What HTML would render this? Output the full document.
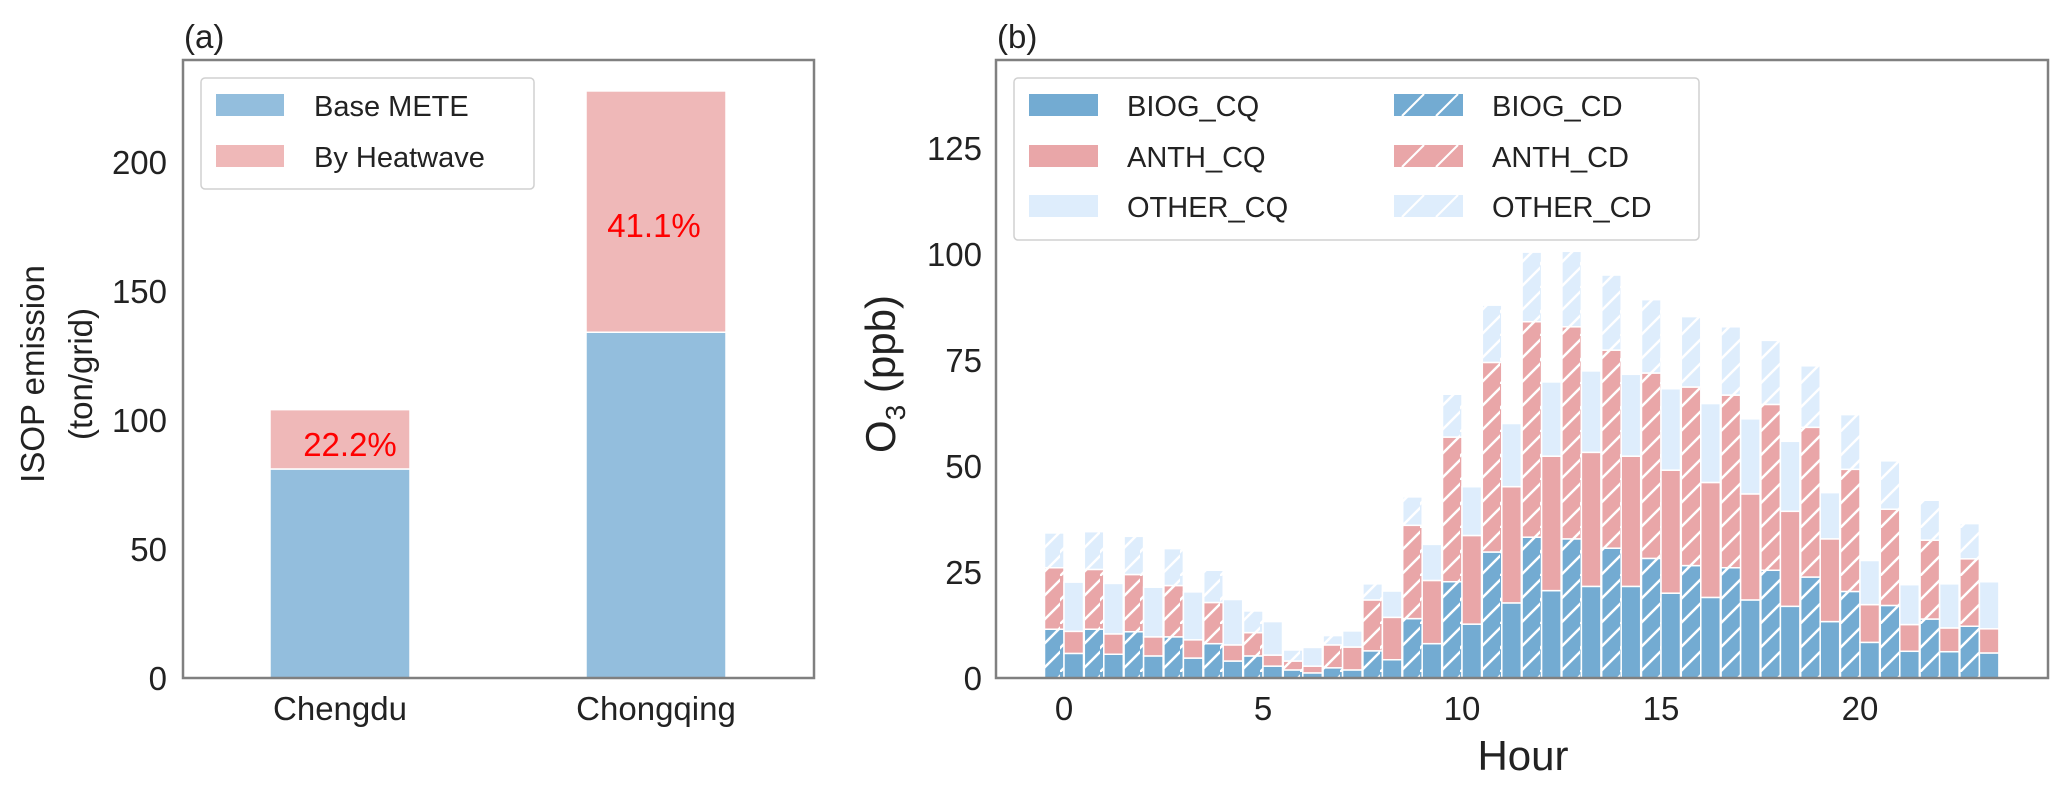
<!DOCTYPE html>
<html><head><meta charset="utf-8"><style>
html,body{margin:0;padding:0;background:#fff;}
svg{display:block;font-family:"Liberation Sans",Arial,sans-serif;}
</style></head><body>
<svg id="chart" width="2067" height="788" viewBox="0 0 2067 788" xmlns="http://www.w3.org/2000/svg">
<defs>
<pattern id="hatch" patternUnits="userSpaceOnUse" width="20" height="48">
<line x1="-2" y1="26" x2="22" y2="2" stroke="#fff" stroke-width="2.5"/>
<line x1="-2" y1="50" x2="22" y2="26" stroke="#fff" stroke-width="2.5"/>
</pattern>
</defs>
<g id="pa"></g>
<g id="pb"></g>
</svg>
<script>
// Panel (a) data
const citiesA = ["Chengdu", "Chongqing"];
const baseA = [81, 134];
const heatA = [23, 93.5];
const pctA = ["22.2%", "41.1%"];
const ticksA = [0, 50, 100, 150, 200];

// Panel (b) data
const hours = [0,1,2,3,4,5,6,7,8,9,10,11,12,13,14,15,16,17,18,19,20,21,22,23];
const biogCD = [11.5,11.5,10.9,9.7,8.1,5.2,1.9,2.4,6.4,14,22.7,29.7,33.2,32.8,30.6,28.2,26.5,26,25.4,23.8,20.4,17.1,13.9,12.2];
const anthCD = [14.5,14.1,13.5,12.1,9.7,5.5,2.1,5.4,12,22,34.1,44.7,50.8,50,46.7,43.7,42.1,40.7,39.1,35.3,28.8,22.7,18.6,15.9];
const otherCD = [8.2,8.9,9,8.7,7.6,5.1,2.6,2.2,3.8,6.7,10.1,13.5,16.4,17.8,17.7,17.3,16.6,16.1,15.1,14.5,12.9,11.4,9.4,8.3];
const biogCQ = [5.8,5.6,5.2,4.7,4,2.8,1.2,1.9,4.3,8.1,12.7,17.7,20.6,21.6,21.6,20,19,18.4,16.9,13.3,8.4,6.3,6.2,5.9];
const anthCQ = [5.2,4.8,4.5,4.3,3.8,2.6,1.6,5.4,10,14.9,20.9,27.4,31.7,31.6,30.7,29,27.1,25,22.4,19.5,8.9,6.3,5.6,5.7];
const otherCQ = [11.6,11.9,11.7,11.3,10.7,7.9,4.4,3.8,6.2,8.5,11.5,14.9,17.5,19.2,19.3,19.2,18.6,17.7,16.5,10.9,10.4,9.4,10.4,11.1];
const ticksB = [0, 25, 50, 75, 100, 125];
const xticksB = [0, 5, 10, 15, 20];

const NS = "http://www.w3.org/2000/svg";
function mk(parent, tag, attrs, text){
  const e = document.createElementNS(NS, tag);
  for (const k in attrs) e.setAttribute(k, attrs[k]);
  if (text !== undefined) e.textContent = text;
  parent.appendChild(e);
  return e;
}

// ---------- Panel A ----------
const pa = document.getElementById('pa');
const A = {l:183, r:814, t:60, b:678, ymax:239.5};
const ya = v => A.b - v/A.ymax*(A.b-A.t);
const xa = i => 340 + i*316;
ticksA.forEach(t => {
  const e = mk(pa,'text',{x:167,y:ya(t)+12,'text-anchor':'end','font-size':33,fill:'#222'},t);
  
  
});
citiesA.forEach((c,i) => {
  const x = xa(i);
  const b = mk(pa,'rect',{x:x-70,y:ya(baseA[i]),width:140,height:ya(0)-ya(baseA[i]),fill:'#93bedd',stroke:'#fff','stroke-width':1.5});
  
  
  const top = baseA[i]+heatA[i];
  const h = mk(pa,'rect',{x:x-70,y:ya(top),width:140,height:ya(baseA[i])-ya(top),fill:'#efb8b8',stroke:'#fff','stroke-width':1.5});
  
  
  const xl = mk(pa,'text',{x:x,y:720,'text-anchor':'middle','font-size':33,fill:'#222'},c);
  
  
});
const p1 = mk(pa,'text',{x:xa(0)+10,y:456,'text-anchor':'middle','font-size':33,fill:'#ff0000'},pctA[0]);


const p2 = mk(pa,'text',{x:xa(1)-2,y:237,'text-anchor':'middle','font-size':33,fill:'#ff0000'},pctA[1]);


const fa = mk(pa,'rect',{x:A.l,y:A.t,width:A.r-A.l,height:A.b-A.t,fill:'none',stroke:'#808080','stroke-width':2.5});


const ta = mk(pa,'text',{x:184,y:48,'font-size':33,fill:'#222'},'(a)');


const yt1 = mk(pa,'text',{x:0,y:0,'text-anchor':'middle','font-size':33,fill:'#222',transform:'translate(44,374) rotate(-90)'},'ISOP emission');


const yt2 = mk(pa,'text',{x:0,y:0,'text-anchor':'middle','font-size':33,fill:'#222',transform:'translate(92,374) rotate(-90)'},'(ton/grid)');


const lga = mk(pa,'g',{});


mk(lga,'rect',{x:201,y:78,width:333,height:111,rx:4,fill:'#fff',stroke:'#d0d0d0','stroke-width':1.5});
[['#93bedd','Base METE',105],['#efb8b8','By Heatwave',156]].forEach(([c,t,y]) => {
  const g = mk(lga,'g',{});
  
  
  mk(g,'rect',{x:216,y:y-11,width:68,height:22,fill:c});
  mk(g,'text',{x:314,y:y+11,'font-size':29,fill:'#222'},t);
});

// ---------- Panel B ----------
const pb = document.getElementById('pb');
const B = {l:996, r:2048, t:60, b:678, ymax:145.7};
const yb = v => B.b - v/B.ymax*(B.b-B.t);
const xb = h => 1064 + h*39.8;
ticksB.forEach(t => {
  const e = mk(pb,'text',{x:982,y:yb(t)+12,'text-anchor':'end','font-size':33,fill:'#222'},t);
  
  
});
xticksB.forEach(t => {
  const e = mk(pb,'text',{x:xb(t),y:720,'text-anchor':'middle','font-size':33,fill:'#222'},t);
  
  
});
function seg(x0, lo, hi, color, hatch, name){
  const r = mk(pb,'rect',{x:x0,y:yb(hi),width:19.5,height:yb(lo)-yb(hi),fill:color,stroke:'#fff','stroke-width':1.5});
  
  
  if (hatch){
    const o = mk(pb,'rect',{x:x0,y:yb(hi),width:19.5,height:yb(lo)-yb(hi),fill:'url(#hatch)'});
    
    
  }
}
hours.forEach((h,i) => {
  const xd = xb(h)-19.5, xq = xb(h);
  const a1 = biogCD[i], a2 = a1+anthCD[i], a3 = a2+otherCD[i];
  seg(xd,0,a1,'#73abd2',true,'bar-biog-cd');
  seg(xd,a1,a2,'#e9a6a8',true,'bar-anth-cd');
  seg(xd,a2,a3,'#deedfc',true,'bar-other-cd');
  const q1 = biogCQ[i], q2 = q1+anthCQ[i], q3 = q2+otherCQ[i];
  seg(xq,0,q1,'#73abd2',false,'bar-biog-cq');
  seg(xq,q1,q2,'#e9a6a8',false,'bar-anth-cq');
  seg(xq,q2,q3,'#deedfc',false,'bar-other-cq');
});
const fb = mk(pb,'rect',{x:B.l,y:B.t,width:B.r-B.l,height:B.b-B.t,fill:'none',stroke:'#808080','stroke-width':2.5});


const tb = mk(pb,'text',{x:997,y:48,'font-size':33,fill:'#222'},'(b)');


const ytb = mk(pb,'text',{x:0,y:0,'text-anchor':'middle','font-size':42,fill:'#222',transform:'translate(895,374) rotate(-90)'});


mk(ytb,'tspan',{},'O');
mk(ytb,'tspan',{dy:10,'font-size':28},'3');
mk(ytb,'tspan',{dy:-10},' (ppb)');
const xtb = mk(pb,'text',{x:1523,y:770,'text-anchor':'middle','font-size':42,fill:'#222'},'Hour');


const lgb = mk(pb,'g',{});


mk(lgb,'rect',{x:1014,y:78,width:685,height:162,rx:4,fill:'#fff',stroke:'#d0d0d0','stroke-width':1.5});
[['#73abd2','BIOG_CQ',1029,105,false],['#e9a6a8','ANTH_CQ',1029,156,false],['#deedfc','OTHER_CQ',1029,206,false],
 ['#73abd2','BIOG_CD',1394,105,true],['#e9a6a8','ANTH_CD',1394,156,true],['#deedfc','OTHER_CD',1394,206,true]].forEach(([c,t,x,y,h]) => {
  const g = mk(lgb,'g',{});
  
  
  mk(g,'rect',{x:x,y:y-11,width:69,height:22,fill:c});
  if (h){
    mk(g,'line',{x1:x+8,y1:y+11,x2:x+30,y2:y-11,stroke:'#fff','stroke-width':2});
    mk(g,'line',{x1:x+42,y1:y+11,x2:x+64,y2:y-11,stroke:'#fff','stroke-width':2});
  }
  mk(g,'text',{x:x+98,y:y+11,'font-size':29,fill:'#222'},t);
});
</script>
</body></html>
